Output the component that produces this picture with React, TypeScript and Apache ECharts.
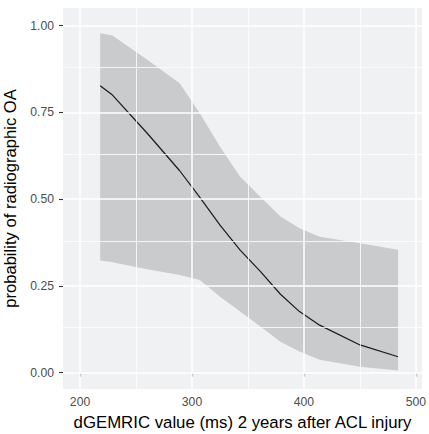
import React, { useEffect, useRef } from 'react';
import * as echarts from 'echarts';

const xValues = [218, 229, 260, 289, 307, 325, 343, 361, 379, 396, 414, 450, 484];
const fitValues = [0.827, 0.8, 0.69, 0.582, 0.505, 0.425, 0.353, 0.292, 0.226, 0.176, 0.137, 0.08, 0.046];
const upperValues = [0.978, 0.972, 0.902, 0.834, 0.748, 0.651, 0.565, 0.507, 0.45, 0.416, 0.392, 0.373, 0.354];
const lowerValues = [0.323, 0.318, 0.298, 0.2815, 0.267, 0.219, 0.176, 0.133, 0.089, 0.061, 0.037, 0.017, 0.006];

const xTicks = [200, 300, 400, 500];
const yTicks = [0, 0.25, 0.5, 0.75, 1];
const xMinor = [250, 350, 450];
const yMinor = [0.125, 0.375, 0.625, 0.875];

const X_MIN = 184.8;
const X_MAX = 505.4;
const Y_MIN = -0.047;
const Y_MAX = 1.051;

export default function App() {
  const ref = useRef<HTMLDivElement>(null);
  useEffect(() => {
    if (!ref.current) return;
    const chart = echarts.init(ref.current, undefined, { renderer: 'svg' });
    const font = 'Liberation Sans, Arial, Helvetica, sans-serif';
    const gridLine = (w: number) => ({ color: '#FFFFFF', width: w, type: 'solid' });
    const markData = [
      ...xMinor.map((v) => ({ xAxis: v, lineStyle: gridLine(0.8) })),
      ...yMinor.map((v) => ({ yAxis: v, lineStyle: gridLine(0.8) })),
      ...xTicks.map((v) => ({ xAxis: v, lineStyle: gridLine(1.5) })),
      ...yTicks.map((v) => ({ yAxis: v, lineStyle: gridLine(1.5) })),
    ];
    chart.setOption({
      animation: false,
      grid: {
        left: 63,
        top: 8,
        right: 7,
        bottom: 45,
        show: true,
        backgroundColor: '#F0F1F3',
        borderWidth: 0,
        outerBoundsMode: 'none',
        containLabel: false,
      },
      xAxis: {
        type: 'value',
        min: X_MIN,
        max: X_MAX,
        name: 'dGEMRIC value (ms) 2 years after ACL injury',
        nameLocation: 'middle',
        nameGap: 25,
        nameTextStyle: { color: '#000', fontSize: 16.8, fontFamily: font },
        axisLine: { show: false },
        axisTick: { show: true, length: 4, customValues: xTicks, lineStyle: { color: '#333', width: 1.1 } },
        axisLabel: { customValues: xTicks, color: '#4D4D4D', fontSize: 12.2, fontFamily: font, margin: 7 },
        splitLine: { show: false },
      },
      yAxis: {
        type: 'value',
        min: Y_MIN,
        max: Y_MAX,
        name: 'probability of radiographic OA',
        nameLocation: 'middle',
        nameGap: 38,
        nameTextStyle: { color: '#000', fontSize: 16.6, fontFamily: font },
        axisLine: { show: false },
        axisTick: { show: true, length: 4, customValues: yTicks, lineStyle: { color: '#333', width: 1.1 } },
        axisLabel: {
          customValues: yTicks,
          color: '#4D4D4D',
          fontSize: 12.2,
          fontFamily: font,
          margin: 9,
          formatter: (v: number) => v.toFixed(2),
        },
        splitLine: { show: false },
      },
      series: [
        {
          type: 'line',
          z: 1,
          silent: true,
          data: [[xValues[0], fitValues[0]]],
          showSymbol: false,
          symbol: 'none',
          lineStyle: { opacity: 0 },
          markLine: {
            silent: true,
            symbol: ['none', 'none'],
            label: { show: false },
            animation: false,
            data: markData,
          },
        },
        {
          type: 'custom',
          z: 2,
          silent: true,
          data: xValues.map((x, i) => [x, upperValues[i], lowerValues[i]]),
          encode: { x: 0, y: [1, 2] },
          renderItem: (params: any, api: any) => {
            if (params.dataIndex !== 0) return { type: 'group', children: [] };
            const pts: number[][] = [];
            for (let i = 0; i < xValues.length; i++) pts.push(api.coord([xValues[i], upperValues[i]]));
            for (let i = xValues.length - 1; i >= 0; i--) pts.push(api.coord([xValues[i], lowerValues[i]]));
            return {
              type: 'polygon',
              shape: { points: pts },
              style: { fill: 'rgba(153,153,153,0.43)' },
            };
          },
        },
        {
          type: 'line',
          z: 3,
          silent: true,
          data: xValues.map((x, i) => [x, fitValues[i]]),
          showSymbol: false,
          symbol: 'none',
          smooth: false,
          lineStyle: { color: '#1A1A1A', width: 1.2 },
        },
      ],
    });
    return () => chart.dispose();
  }, []);
  return <div ref={ref} style={{ position: 'absolute', left: 0, top: 0, width: 429, height: 434 }} />;
}
